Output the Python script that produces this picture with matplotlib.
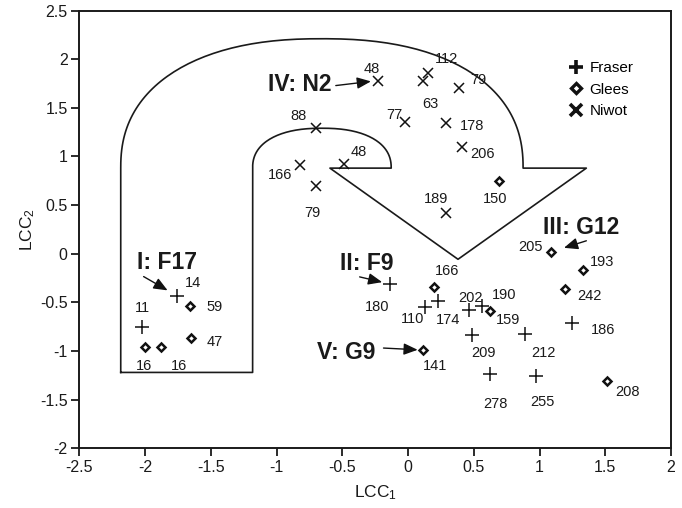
import numpy as np
import matplotlib
matplotlib.use("Agg")
import matplotlib.pyplot as plt
from matplotlib.lines import Line2D

plt.rcParams['font.family'] = ['Liberation Sans', 'DejaVu Sans']
plt.rcParams['mathtext.fontset'] = 'custom'
plt.rcParams['mathtext.rm'] = 'Liberation Sans'
plt.rcParams['mathtext.it'] = 'Liberation Sans'
plt.rcParams['mathtext.default'] = 'regular'

# site scores on the first two canonical axes
fraser_x = [-1.76, -2.02, -0.14, 0.13, 0.23, 0.46, 0.56, 0.49, 0.89, 0.62, 0.97, 1.25]
fraser_y = [-0.43, -0.75, -0.31, -0.55, -0.49, -0.58, -0.54, -0.84, -0.83, -1.24, -1.26, -0.71]
fraser_lab = ['14', '11', '180', '110', '174', '202', '190', '209', '212', '278', '255', '186']

glees_x = [-1.66, -1.65, -2.00, -1.88, 0.20, 0.62, 0.11, 1.51, 1.09, 1.33, 1.19, 0.69]
glees_y = [-0.54, -0.87, -0.96, -0.96, -0.34, -0.59, -0.99, -1.31, 0.02, -0.17, -0.36, 0.75]
glees_lab = ['59', '47', '16', '16', '166', '159', '141', '208', '205', '193', '242', '150']

niwot_x = [-0.23, 0.15, 0.11, 0.39, -0.02, 0.29, 0.41, -0.70, -0.82, -0.70, -0.49, 0.29]
niwot_y = [1.78, 1.86, 1.78, 1.70, 1.35, 1.34, 1.10, 1.29, 0.91, 0.70, 0.92, 0.42]
niwot_lab = ['48', '112', '63', '79', '77', '178', '206', '88', '166', '79', '48', '189']

# label offsets (pixels) from each point
fraser_off = [(16, 13), (0, 19), (-13, -23), (-13, -12), (10, -19), (2, 12),
              (22, 11), (11, -18), (18, -19), (6, -30), (7, -26), (31, -7)]
glees_off = [(25, -1), (24, -4), (-1, -19), (18, -19), (13, 16), (18, -9),
             (13, -16), (21, -11), (-21, 5), (19, 8), (25, -7), (-4, -18)]
niwot_off = [(-6, 12), (19, 14), (8, -23), (19, 8), (-11, 7), (26, -3),
             (21, -7), (-17, 12), (-20, -10), (-4, -27), (15, 12), (-10, 14)]

# outline of the trajectory region (arc + arrow)
arc_cx, arc_cy = -0.655, 0.88
outer_rx, outer_ry = 1.53, 1.33
inner_rx, inner_ry = 0.527, 0.41
region_bottom = -1.22
head_left, head_right = -0.594, 1.356
head_tip = (0.38, -0.057)


def superellipse(cx, cy, rx, ry, t0, t1, n=2.3, num=120):
    t = np.linspace(t0, t1, num)
    c, s = np.cos(t), np.sin(t)
    xs = cx + rx * np.sign(c) * np.abs(c) ** (2 / n)
    ys = cy + ry * np.abs(s) ** (2 / n)
    return xs, ys


fig = plt.figure(figsize=(6.82, 5.08), dpi=100)
ax = fig.add_axes([0.1163, 0.1175, 0.8676, 0.8618])

# region outline
ix, iy = superellipse(arc_cx, arc_cy, inner_rx, inner_ry, np.pi, 0)
ox, oy = superellipse(arc_cx, arc_cy, outer_rx, outer_ry, 0, np.pi)
left = arc_cx - outer_rx
ileft = arc_cx - inner_rx
px = np.concatenate([[left, ileft, ileft], ix, [head_left, head_tip[0], head_right, arc_cx + outer_rx], ox, [left]])
py = np.concatenate([[region_bottom, region_bottom, arc_cy], iy, [arc_cy, head_tip[1], arc_cy, arc_cy], oy, [region_bottom]])
ax.plot(px, py, color='#1a1a1a', lw=1.2, zorder=1)

# points
ax.plot(fraser_x, fraser_y, ls='none', marker='+', ms=9.5, mew=1.1, color='#111111', zorder=3)
ax.plot(glees_x, glees_y, ls='none', marker='D', ms=4.2, mew=1.8, mfc='white', mec='#111111', zorder=3)
ax.plot(niwot_x, niwot_y, ls='none', marker='x', ms=7.8, mew=1.1, color='#111111', zorder=3)

for xs, ys, labs, offs in [(fraser_x, fraser_y, fraser_lab, fraser_off),
                           (glees_x, glees_y, glees_lab, glees_off),
                           (niwot_x, niwot_y, niwot_lab, niwot_off)]:
    for x, y, lab, off in zip(xs, ys, labs, offs):
        ax.annotate(lab, xy=(x, y), xytext=off, textcoords='offset pixels',
                    ha='center', va='center', fontsize=10.5, color='#1a1a1a')

# group call-outs: (text, point, text offset, arrow start offset, shrink)
callouts = [
    ('I: F17', (fraser_x[0], fraser_y[0]), (-10, 33), (-33, 19), 7.5),
    ('II: F9', (fraser_x[2], fraser_y[2]), (-23, 20), (-30, 7), 5.5),
    ('III: G12', (glees_x[8], glees_y[8]), (30, 24), (35, 11), 9.5),
    ('IV: N2', (niwot_x[0], niwot_y[0]), (-78, -4), (-42, -5), 5.0),
    ('V: G9', (glees_x[6], glees_y[6]), (-76, -2), (-39, 2), 3.5),
]
for txt, pt, toff, aoff, shr in callouts:
    ax.annotate('', xy=pt, xytext=aoff, textcoords='offset pixels',
                arrowprops=dict(arrowstyle='-|>,head_length=0.6,head_width=0.25',
                                color='#111111', lw=1.0, mutation_scale=14,
                                shrinkA=0, shrinkB=shr))
    ax.annotate(txt, xy=pt, xytext=toff, textcoords='offset pixels',
                ha='center', va='center', fontsize=16.5, fontweight='bold', color='#1a1a1a')

# legend
handles = [Line2D([], [], ls='none', marker='+', ms=10, mew=2.6, color='#111111'),
           Line2D([], [], ls='none', marker='D', ms=5, mew=2.4, mfc='white', mec='#111111'),
           Line2D([], [], ls='none', marker='x', ms=8, mew=2.6, color='#111111')]
ax.legend(handles, ['Fraser', 'Glees', 'Niwot'], loc='upper left', bbox_to_anchor=(0.826, 0.885),
          frameon=False, fontsize=11, handlelength=1.0, handletextpad=0.4,
          labelspacing=0.5, borderpad=0, borderaxespad=0)

ax.set_xlim(-2.5, 2)
ax.set_ylim(-2, 2.5)
ax.set_xticks(np.arange(-2.5, 2.01, 0.5))
ax.set_yticks(np.arange(-2, 2.51, 0.5))
ax.set_xticklabels(['-2.5', '-2', '-1.5', '-1', '-0.5', '0', '0.5', '1', '1.5', '2'])
ax.set_yticklabels(['-2', '-1.5', '-1', '-0.5', '0', '0.5', '1', '1.5', '2', '2.5'])
ax.tick_params(direction='out', length=5.5, width=1.3, labelsize=11.5, colors='#1a1a1a', pad=3)
for sp in ax.spines.values():
    sp.set_linewidth(1.4)
    sp.set_color('#1a1a1a')

ax.set_xlabel('LCC$_1$', fontsize=12.5, color='#1a1a1a', labelpad=6)
ax.set_ylabel('LCC$_2$', fontsize=12.5, color='#1a1a1a', labelpad=2)

fig.savefig('out.png', dpi=100)
